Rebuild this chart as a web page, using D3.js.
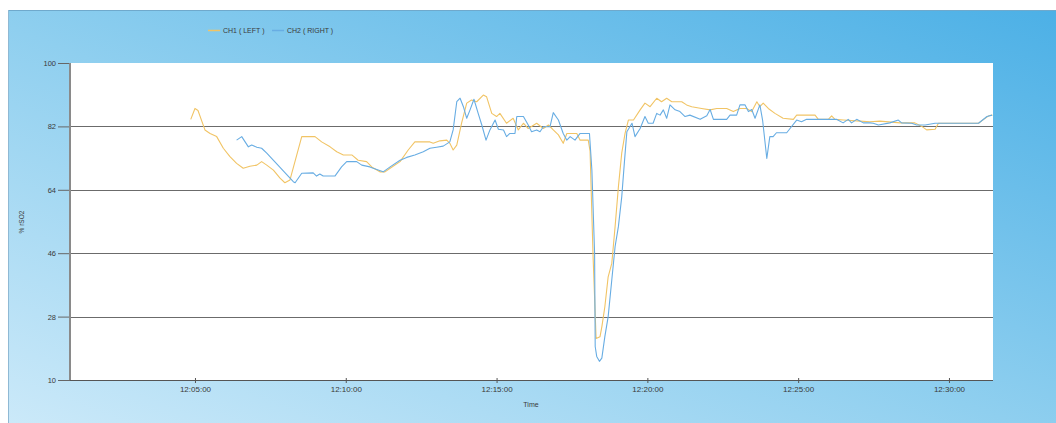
<!DOCTYPE html>
<html>
<head>
<meta charset="utf-8">
<script src="https://cdn.jsdelivr.net/npm/d3@7"></script>
<style>
  html, body { margin: 0; padding: 0; background: #fff; }
  svg { display: block; font-family: "Liberation Sans", Arial, sans-serif; }
</style>
</head>
<body>
<svg id="chart" width="1056" height="423"></svg>
<script>
// ---- data (time in minutes after 12:00:00, value in % rSO2) ----
const seriesNames = ["CH1 ( LEFT )", "CH2 ( RIGHT )"];
const yTickValues = [10, 28, 46, 64, 82, 100];
const xTickLabels = ["12:05:00", "12:10:00", "12:15:00", "12:20:00", "12:25:00", "12:30:00"];
const timeDomainMinutes = [0.856, 31.46];

const ch1Minutes = [4.86,5.00,5.10,5.33,5.50,5.72,5.94,6.16,6.38,6.60,6.82,7.05,7.21,7.38,7.60,7.82,7.98,8.15,8.54,8.98,9.20,9.48,9.70,9.92,10.20,10.41,10.69,10.86,11.13,11.30,11.47,11.80,12.07,12.29,12.46,12.79,12.90,13.12,13.35,13.45,13.56,13.68,13.84,14.01,14.17,14.34,14.56,14.67,14.84,15.00,15.11,15.33,15.55,15.72,15.89,16.05,16.33,16.55,16.72,16.88,17.05,17.21,17.33,17.66,17.77,18.04,18.10,18.20,18.30,18.43,18.49,18.59,18.70,18.82,18.93,19.04,19.15,19.26,19.37,19.54,19.76,19.92,20.09,20.31,20.47,20.64,20.81,21.14,21.30,21.47,21.80,22.08,22.30,22.63,22.85,23.07,23.29,23.46,23.63,23.73,23.84,24.01,24.23,24.50,24.84,24.95,25.56,25.67,26.00,26.11,26.22,26.50,27.05,27.38,27.71,28.38,28.87,29.10,29.26,29.54,29.65,30.98,31.15,31.32,31.44];
const ch1Values = [84.0,87.1,86.5,81.0,80.0,79.1,75.8,73.4,71.5,70.1,70.7,71.0,72.0,71.0,69.6,67.3,66.0,66.8,79.1,79.1,77.6,76.2,74.8,73.9,73.9,72.4,72.0,70.5,69.1,69.1,70.1,72.0,75.3,77.6,77.6,77.6,77.2,77.9,78.1,77.2,75.3,76.7,82.9,88.6,89.5,89.0,90.9,90.4,85.7,84.8,85.7,82.9,84.3,81.0,82.9,81.4,82.9,81.4,82.4,81.0,79.6,77.2,80.0,80.0,78.1,78.1,75.0,45.0,21.8,22.3,25.1,30.8,39.3,43.1,53.6,64.9,74.4,80.0,83.8,83.8,86.7,88.6,87.6,90.0,89.0,90.0,89.0,89.0,88.1,87.6,87.1,86.7,87.1,87.1,86.2,87.1,87.1,86.2,89.0,87.6,88.6,87.1,85.7,84.3,84.0,85.2,85.2,84.0,84.0,85.0,84.0,83.8,83.5,83.3,83.5,83.0,83.0,82.0,81.0,81.2,82.9,82.9,84.0,85.0,85.2];

const ch2Minutes = [6.38,6.55,6.77,6.88,7.05,7.21,7.38,8.26,8.32,8.54,8.92,9.03,9.14,9.25,9.64,9.86,10.03,10.36,10.53,10.80,10.91,11.24,11.47,11.80,12.02,12.29,12.57,12.79,13.01,13.23,13.45,13.56,13.68,13.79,13.90,14.01,14.12,14.25,14.39,14.51,14.65,14.78,14.95,15.06,15.23,15.33,15.44,15.61,15.67,15.89,16.05,16.16,16.33,16.44,16.55,16.77,16.88,17.05,17.21,17.33,17.44,17.60,17.77,18.08,18.16,18.25,18.27,18.32,18.41,18.49,18.59,18.70,18.82,18.93,19.04,19.15,19.24,19.32,19.49,19.59,19.76,19.92,20.03,20.19,20.31,20.42,20.53,20.64,20.75,20.92,21.08,21.25,21.41,21.75,21.97,22.08,22.19,22.63,22.74,22.96,23.07,23.24,23.35,23.46,23.57,23.73,23.82,23.96,24.06,24.17,24.28,24.62,24.73,24.95,25.11,25.28,26.27,26.49,26.66,26.77,26.94,27.16,27.38,27.49,27.66,28.04,28.32,28.43,28.76,28.93,29.21,29.54,30.98,31.26,31.43];
const ch2Values = [78.1,79.1,76.2,76.7,76.1,75.8,74.4,66.3,66.0,68.7,68.8,67.9,68.5,67.9,67.9,70.5,72.0,72.0,71.0,70.5,70.1,69.1,70.5,72.4,73.2,73.9,74.8,75.8,76.1,76.4,77.6,81.0,89.0,90.0,87.6,84.3,86.7,89.7,85.7,82.4,78.1,81.0,83.8,81.2,81.0,79.1,80.0,80.0,84.8,84.8,82.4,80.5,81.0,80.5,81.9,81.9,85.9,83.8,80.0,78.1,79.1,78.1,80.0,80.0,69.6,46.0,19.5,16.7,15.3,16.2,22.3,28.0,38.4,47.9,53.6,62.0,72.0,80.5,82.9,79.1,81.4,84.8,82.9,82.9,85.7,85.2,86.7,84.3,88.1,86.7,86.2,84.8,85.2,84.0,85.0,86.8,84.0,84.0,85.2,85.2,88.1,88.1,86.2,86.8,84.3,88.1,83.8,72.9,79.1,79.1,80.2,80.2,81.4,83.8,83.3,84.0,84.0,83.0,84.0,83.0,84.0,83.0,83.0,82.9,82.4,83.0,83.8,83.0,82.9,82.4,82.4,82.9,82.9,84.8,85.2];

// ---- helpers ----
const base = new Date(2020, 0, 1, 12, 0, 0).getTime();
const toDate = m => new Date(base + Math.round(m * 60000));
const parseTick = d3.timeParse("%H:%M:%S");
const tickDates = xTickLabels.map(s => { const p = parseTick(s); return new Date(2020, 0, 1, p.getHours(), p.getMinutes(), p.getSeconds()); });

const colors = ["#F1C465", "#68ADE3"];
const series = [
  ch1Minutes.map((m, i) => ({ t: toDate(m), v: ch1Values[i] })),
  ch2Minutes.map((m, i) => ({ t: toDate(m), v: ch2Values[i] }))
];

const W = 1056, H = 423;
const plot = { left: 70, right: 993, top: 63, bottom: 380 };

const svg = d3.select("#chart");
const defs = svg.append("defs");
const grad = defs.append("linearGradient").attr("id", "bg")
  .attr("x1", "0").attr("y1", "1").attr("x2", "1").attr("y2", "0");
grad.append("stop").attr("offset", "0%").attr("stop-color", "#cbe9f9");
grad.append("stop").attr("offset", "48%").attr("stop-color", "#8fcfef");
grad.append("stop").attr("offset", "100%").attr("stop-color", "#4cb0e6");

svg.append("rect").attr("x", 0).attr("y", 0).attr("width", W).attr("height", H).attr("fill", "#fff");
svg.append("rect").attr("x", 8).attr("y", 10).attr("width", W - 8).attr("height", H - 10)
  .attr("fill", "url(#bg)");
svg.append("line").attr("x1", 8).attr("x2", W).attr("y1", 10.5).attr("y2", 10.5).attr("stroke", "#6fa9cc").attr("stroke-width", 1);
svg.append("line").attr("x1", 8.5).attr("x2", 8.5).attr("y1", 10).attr("y2", H).attr("stroke", "#8fb9d4").attr("stroke-width", 1);

const x = d3.scaleTime().domain(timeDomainMinutes.map(toDate)).range([plot.left, plot.right]);
const y = d3.scaleLinear().domain([10, 100]).range([plot.bottom, plot.top]);

// plot background
svg.append("rect").attr("x", plot.left).attr("y", plot.top)
  .attr("width", plot.right - plot.left).attr("height", plot.bottom - plot.top).attr("fill", "#fff");

// gridlines
svg.append("g").selectAll("line").data(yTickValues.filter(v => v > 10 && v < 100)).join("line")
  .attr("x1", plot.left).attr("x2", plot.right)
  .attr("y1", d => Math.round(y(d)) + 0.5).attr("y2", d => Math.round(y(d)) + 0.5)
  .attr("stroke", "#6b6b6b").attr("stroke-width", 1);

// y axis
const yAxis = svg.append("g").attr("transform", `translate(${plot.left},0)`)
  .call(d3.axisLeft(y).tickValues(yTickValues).tickSize(12).tickPadding(2).tickFormat(d3.format("d")));
yAxis.select(".domain").remove();
yAxis.selectAll(".tick line").attr("stroke", "#666");
yAxis.selectAll("text").attr("fill", "#3a3a3a").style("font-size", "7.5px");
svg.append("line").attr("x1", plot.left).attr("x2", plot.left).attr("y1", plot.top).attr("y2", plot.bottom)
  .attr("stroke", "#8a8a8a").attr("stroke-width", 2);

// x axis
const xAxis = svg.append("g").attr("transform", `translate(0,${plot.bottom})`)
  .call(d3.axisBottom(x).tickValues(tickDates).tickSize(4).tickPadding(2).tickFormat(d3.timeFormat("%H:%M:%S")));
xAxis.select(".domain").attr("stroke", "#555").attr("d", `M${plot.left},0.5H${plot.right}`);
xAxis.selectAll(".tick line").attr("stroke", "#555").attr("y1", -2).attr("y2", 3);
xAxis.selectAll("text").attr("fill", "#3a3a3a").style("font-size", "8px");

// lines
const line = d3.line().x(d => x(d.t)).y(d => y(d.v));
series.forEach((s, i) => {
  svg.append("path").datum(s).attr("d", line)
    .attr("fill", "none").attr("stroke", colors[i]).attr("stroke-width", 1.1)
    .attr("stroke-linejoin", "round");
});

// axis titles
svg.append("text").attr("x", 531).attr("y", 407).attr("text-anchor", "middle")
  .attr("fill", "#3a3a3a").style("font-size", "7px").text("Time");
svg.append("text").attr("transform", "translate(24,222) rotate(-90)").attr("text-anchor", "middle")
  .attr("fill", "#3a3a3a").style("font-size", "6.5px").text("% rSO2");

// legend
const legendX = [208, 272];
const lg = svg.append("g");
seriesNames.forEach((name, i) => {
  lg.append("line").attr("x1", legendX[i]).attr("x2", legendX[i] + 12)
    .attr("y1", 30.5).attr("y2", 30.5).attr("stroke", colors[i]).attr("stroke-width", 1.5);
  lg.append("text").attr("x", legendX[i] + 15).attr("y", 33)
    .attr("fill", "#3a3a3a").style("font-size", "7px").text(name);
});
</script>
</body>
</html>
